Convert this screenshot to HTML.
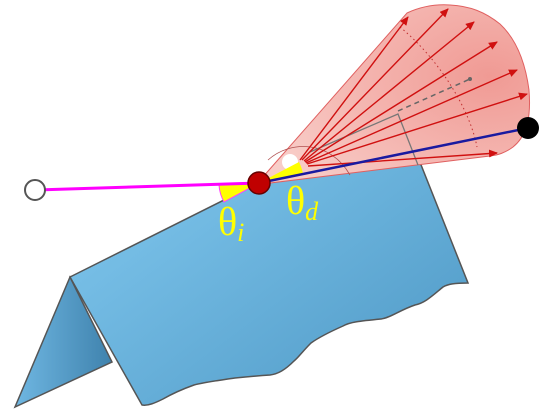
<!DOCTYPE html>
<html><head><meta charset="utf-8"><style>
html,body{margin:0;padding:0;background:#fff;width:543px;height:416px;overflow:hidden}
svg{display:block}
</style></head><body>
<svg width="543" height="416" viewBox="0 0 543 416">
<defs>
<linearGradient id="mainG" x1="0" y1="0" x2="1" y2="1">
<stop offset="0" stop-color="#86cdf3"/><stop offset="1" stop-color="#4d97c4"/></linearGradient>
<linearGradient id="leftG" x1="0" y1="0" x2="1" y2="0">
<stop offset="0" stop-color="#6fb7e2"/><stop offset="1" stop-color="#3f82ad"/></linearGradient>
<radialGradient id="coneG" cx="0.85" cy="0.4" r="0.9">
<stop offset="0" stop-color="#f09a94"/><stop offset="1" stop-color="#f8cdc8"/></radialGradient>
<marker id="ah" markerWidth="9" markerHeight="8" refX="8" refY="4" orient="auto" markerUnits="userSpaceOnUse">
<path d="M0,0 L9,4 L0,8 Z" fill="#d01010"/></marker>
</defs>
<g>
<path d="M70,277 L15,407 L112,362 Z" fill="url(#leftG)" stroke="#555" stroke-width="1.5"/>
</g>
<g>
<path d="M70,277 L400,112 L468,283 C455,283 448,284 443,287 C432,296 425,303 415,305 C400,310 390,318 381,319 C360,321 350,322 343,326 C325,334 318,338 311,343 C302,352 298,358 294,361 C285,370 278,374 270,375 C255,376 245,377 235,378 C215,381 205,382 194,385 C180,390 170,395 163,399 C155,403 148,406 142,405 Z" fill="url(#mainG)" stroke="#555" stroke-width="1.5"/>
</g>
<path d="M262,178 L407,13 C420,7 435,4 450,5 C470,6 485,12 500,24 C515,38 525,60 529,90 C531,115 528,135 513,147 C505,153 498,155 490,156 L262,184 Z" fill="url(#coneG)" stroke="#e06060" stroke-width="1"/>
<path d="M400,27 C440,60 470,110 477,147" fill="none" stroke="#c03030" stroke-width="1" stroke-dasharray="1.5,3"/>
<path d="M268,160 C290,140 330,140 350,175" fill="none" stroke="#b05050" stroke-width="0.8"/>
<path d="M310,152 L398,114 L418,165" fill="none" stroke="#777" stroke-width="1.3"/>
<line x1="398" y1="111" x2="470" y2="79" stroke="#666" stroke-width="1.5" stroke-dasharray="5,4"/>
<circle cx="470" cy="79" r="2" fill="#666"/>
<g stroke="#d01010" stroke-width="1.4">
<line x1="300" y1="160" x2="408" y2="17" marker-end="url(#ah)"/>
<line x1="302" y1="160" x2="448" y2="9" marker-end="url(#ah)"/>
<line x1="304" y1="161" x2="474" y2="22" marker-end="url(#ah)"/>
<line x1="305" y1="162" x2="497" y2="42" marker-end="url(#ah)"/>
<line x1="306" y1="163" x2="517" y2="70" marker-end="url(#ah)"/>
<line x1="307" y1="164" x2="527" y2="94" marker-end="url(#ah)"/>
<line x1="308" y1="166" x2="497" y2="153" marker-end="url(#ah)"/>
</g>
<circle cx="290" cy="162" r="8" fill="#fff"/>
<path d="M259,183 L219,185 A40,40 0 0,0 224,202 Z" fill="#ffff00" stroke="#ff40ff" stroke-width="1"/>
<path d="M259,183 L299,162 A45,45 0 0,1 303,174 Z" fill="#ffff00"/>
<line x1="36" y1="190" x2="259" y2="183" stroke="#ff00ff" stroke-width="3"/>
<line x1="259" y1="183" x2="528" y2="128" stroke="#1a1aa0" stroke-width="2.5"/>
<circle cx="35" cy="190" r="10" fill="#fff" stroke="#555" stroke-width="2"/>
<circle cx="259" cy="183" r="11" fill="#c00000" stroke="#600" stroke-width="1.5"/>
<circle cx="528" cy="128" r="11" fill="#000"/>
<text x="218" y="235" font-family="'Liberation Serif', serif" font-size="40" fill="#ffff00">θ<tspan font-size="26" font-style="italic" dy="6">i</tspan></text>
<text x="286" y="214" font-family="'Liberation Serif', serif" font-size="40" fill="#ffff00">θ<tspan font-size="26" font-style="italic" dy="6">d</tspan></text>
</svg>
</body></html>
